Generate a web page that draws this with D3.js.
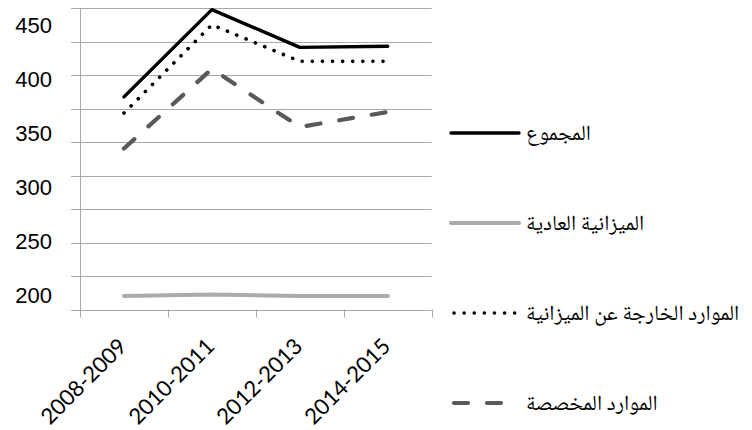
<!DOCTYPE html>
<html>
<head>
<meta charset="utf-8">
<script src="https://cdn.jsdelivr.net/npm/d3@7"></script>
<style>
  html, body { margin: 0; padding: 0; background: #fff; }
  svg { display: block; }
</style>
</head>
<body>
<svg id="chart" width="752" height="430"></svg>
<script>
// Biennium periods along the x axis
const categories = ["2008-2009", "2010-2011", "2012-2013", "2014-2015"];

// Series values per biennium
const total          = [384, 465, 430, 431];   // المجموع
const regularBudget  = [199, 200.5, 199, 199]; // الميزانية العادية
const extraBudgetary = [369, 451, 417, 417];   // الموارد الخارجة عن الميزانية
const earmarked      = [336, 410, 356, 370];   // الموارد المخصصة

// Value labels shown on the vertical axis
const yTickLabels = [200, 250, 300, 350, 400, 450];

// Number of horizontal grid intervals in the plot area
const gridIntervals = 9;

const series = [
  { name: "المجموع", values: total, color: "#000000", width: 3.4, dash: null },
  { name: "الميزانية العادية", values: regularBudget, color: "#ababab", width: 4, dash: null },
  { name: "الموارد الخارجة عن الميزانية", values: extraBudgetary, color: "#000000", width: 3.6, dash: "0.1 10" },
  { name: "الموارد المخصصة", values: earmarked, color: "#595959", width: 4.2, dash: "14 19" }
];

const svg = d3.select("#chart");

const plot = { left: 80, right: 431.7, top: 8.3, bottom: 309.7 };

const x = d3.scaleBand().domain(categories).range([plot.left, plot.right]);
const y = d3.scaleLinear().domain([200, 450]).range([295, 25.8]);
const grid = d3.scaleLinear().domain([0, gridIntervals]).range([plot.bottom, plot.top]);

const gridColor = "#a9a9a9";

// Horizontal gridlines (with a short stub to the left of the axis)
svg.append("g")
  .selectAll("line")
  .data(d3.range(0, gridIntervals + 1))
  .join("line")
  .attr("x1", plot.left - 9)
  .attr("x2", plot.right)
  .attr("y1", d => Math.round(grid(d)) + 0.5)
  .attr("y2", d => Math.round(grid(d)) + 0.5)
  .attr("stroke", gridColor)
  .attr("stroke-width", 1);

// Vertical axis line
svg.append("line")
  .attr("x1", plot.left + 0.5).attr("x2", plot.left + 0.5)
  .attr("y1", plot.top).attr("y2", plot.bottom + 8)
  .attr("stroke", gridColor);

// Tick marks at band boundaries on the x axis
const edges = categories.map(c => x(c)).concat([x.range()[1]]);
svg.append("g")
  .selectAll("line")
  .data(edges.slice(1))
  .join("line")
  .attr("x1", d => Math.round(d) + 0.5)
  .attr("x2", d => Math.round(d) + 0.5)
  .attr("y1", plot.bottom)
  .attr("y2", plot.bottom + 8)
  .attr("stroke", gridColor);

// Y axis labels
const yAxis = svg.append("g")
  .attr("transform", `translate(${plot.left},0)`)
  .call(d3.axisLeft(y).tickValues(yTickLabels).tickSize(0).tickPadding(28).tickFormat(d3.format("d")));
yAxis.select(".domain").remove();
yAxis.selectAll("text")
  .attr("font-family", "'Liberation Sans', Arial, sans-serif")
  .attr("font-size", 22)
  .attr("fill", "#000");

// X axis labels, rotated
svg.append("g")
  .selectAll("text")
  .data(categories)
  .join("text")
  .attr("transform", d => `translate(${x(d) + x.bandwidth() / 2 + 4},${plot.bottom + 38}) rotate(-45)`)
  .attr("text-anchor", "end")
  .attr("font-family", "Lato, 'Open Sans', sans-serif")
  .attr("font-size", 22)
  .attr("fill", "#000")
  .text(d => d);

// Series lines
const line = d3.line()
  .x((d, i) => x(categories[i]) + x.bandwidth() / 2)
  .y(d => y(d));

svg.append("g")
  .selectAll("path")
  .data(series)
  .join("path")
  .attr("d", d => line(d.values))
  .attr("fill", "none")
  .attr("stroke", d => d.color)
  .attr("stroke-width", d => d.width)
  .attr("stroke-linecap", "round")
  .attr("stroke-linejoin", "round")
  .attr("stroke-dasharray", d => d.dash);

// Legend
const legend = svg.append("g")
  .selectAll("g")
  .data(series)
  .join("g")
  .attr("transform", (d, i) => `translate(0,${133 + i * 90})`);

legend.append("line")
  .attr("x1", d => d.dash ? 454 : 451)
  .attr("x2", 519)
  .attr("y1", 0).attr("y2", 0)
  .attr("stroke", d => d.color)
  .attr("stroke-width", d => d.width)
  .attr("stroke-linecap", "round")
  .attr("stroke-dasharray", d => d.dash);

legend.append("text")
  .attr("x", 526)
  .attr("y", 7)
  .attr("direction", "rtl")
  .attr("text-anchor", "end")
  .attr("font-family", "'Noto Naskh Arabic', 'Times New Roman', 'DejaVu Serif', 'DejaVu Sans', serif")
  .attr("font-size", 21.5)
  .attr("fill", "#000")
  .text(d => d.name);
</script>
</body>
</html>
